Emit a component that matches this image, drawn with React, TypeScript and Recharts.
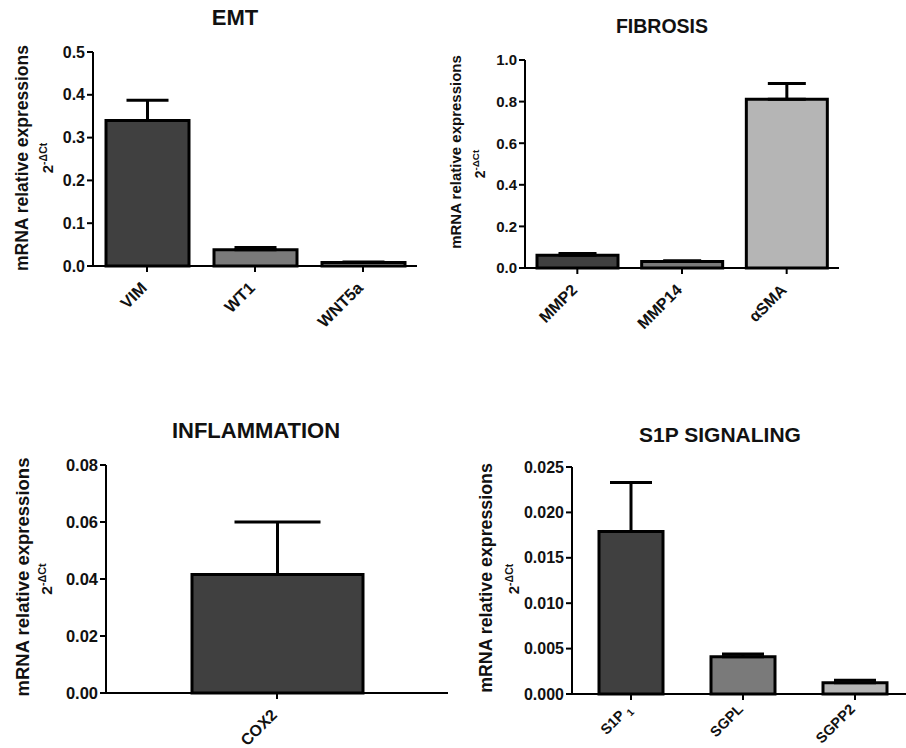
import React from 'react';
import { BarChart, Bar, XAxis, YAxis, ErrorBar, Cell } from 'recharts';

const emtGenes = ['VIM', 'WT1', 'WNT5a'];
const emtMeans = [0.34, 0.038, 0.008];
const emtSem = [0.047, 0.005, 0.0012];
const emtTicks = [0, 0.1, 0.2, 0.3, 0.4, 0.5];

const fibrosisGenes = ['MMP2', 'MMP14', 'αSMA'];
const fibrosisMeans = [0.061, 0.031, 0.811];
const fibrosisSem = [0.009, 0.004, 0.076];
const fibrosisTicks = [0, 0.2, 0.4, 0.6, 0.8, 1.0];

const inflammationGenes = ['COX2'];
const inflammationMeans = [0.0416];
const inflammationSem = [0.0184];
const inflammationTicks = [0, 0.02, 0.04, 0.06, 0.08];

// "_" marks a subscript in the tick label
const s1pGenes = ['S1P_1', 'SGPL', 'SGPP2'];
const s1pMeans = [0.0179, 0.0041, 0.00125];
const s1pSem = [0.0054, 0.0003, 0.00027];
const s1pTicks = [0, 0.005, 0.01, 0.015, 0.02, 0.025];

const FONT = "'Liberation Sans', Arial, Helvetica, sans-serif";
const BAR_FILLS = ['#404040', '#7a7a7a', '#b5b5b5'];

const GeneTick = (props: any) => {
  const { x, y, payload, fontSize, drop = 15 } = props;
  const [main, sub] = String(payload.value).split('_');
  const ty = y + drop;
  return (
    <text
      x={x + 1}
      y={ty}
      transform={`rotate(-45 ${x + 1} ${ty})`}
      textAnchor="end"
      fontFamily={FONT}
      fontWeight={700}
      fontSize={fontSize}
      fill="#111"
    >
      {main}
      {sub && (
        <tspan dx={3} dy={4} fontSize={fontSize * 0.7}>
          {sub}
        </tspan>
      )}
    </text>
  );
};

type Plot = { x0: number; x1: number; y0: number; y1: number };

const Panel = (props: {
  genes: string[];
  means: number[];
  sem: number[];
  ticks: number[];
  digits: number;
  plot: Plot;
  barSize: number;
  capHalf: number;
  tickFont: number;
  catFont: number;
  catDrop?: number;
  padLeft?: number;
}) => {
  const { genes, means, sem, ticks, digits, plot, barSize, capHalf, tickFont, catFont } = props;
  const yw = 80;
  const mt = 12;
  const mr = 12;
  const xh = 80;
  const data = genes.map((gene, i) => ({ gene, mean: means[i], err: [0, sem[i]] }));
  const axisStyle = { stroke: '#000', strokeWidth: 2 };
  return (
    <div style={{ position: 'absolute', left: plot.x0 - yw, top: plot.y0 - mt }}>
      <BarChart
        width={plot.x1 - plot.x0 + yw + mr}
        height={plot.y1 - plot.y0 + mt + xh}
        data={data}
        margin={{ top: mt, right: mr, bottom: 0, left: 0 }}
      >
        <XAxis
          dataKey="gene"
          height={xh}
          interval={0}
          padding={{ left: props.padLeft || 0, right: 0 }}
          axisLine={axisStyle}
          tickLine={axisStyle}
          tick={<GeneTick fontSize={catFont} drop={props.catDrop} />}
        />
        <YAxis
          width={yw}
          domain={[ticks[0], ticks[ticks.length - 1]]}
          ticks={ticks}
          interval={0}
          tickFormatter={(v: number) => v.toFixed(digits)}
          axisLine={axisStyle}
          tickLine={axisStyle}
          tick={{ fill: '#111', fontSize: tickFont, fontWeight: 700, fontFamily: FONT }}
        />
        <Bar dataKey="mean" barSize={barSize} stroke="#000" strokeWidth={3} isAnimationActive={false}>
          {data.map((d, i) => (
            <Cell key={d.gene} fill={BAR_FILLS[i]} />
          ))}
          <ErrorBar
            dataKey="err"
            direction="y"
            width={capHalf}
            stroke="#000"
            strokeWidth={3}
            isAnimationActive={false}
          />
        </Bar>
      </BarChart>
    </div>
  );
};

const Title = ({ text, cx, cy, size }: { text: string; cx: number; cy: number; size: number }) => (
  <div
    style={{
      position: 'absolute',
      left: cx,
      top: cy,
      transform: 'translate(-50%, -50%)',
      whiteSpace: 'nowrap',
      fontFamily: FONT,
      fontWeight: 700,
      fontSize: size,
      lineHeight: 1,
      color: '#111',
    }}
  >
    {text}
  </div>
);

const YLabel = (props: { cx: number; cy: number; size: number; cx2: number; cy2: number; size2: number }) => {
  const base = {
    position: 'absolute' as const,
    transform: 'translate(-50%, -50%) rotate(-90deg)',
    whiteSpace: 'nowrap' as const,
    fontFamily: FONT,
    fontWeight: 700,
    lineHeight: 1,
    color: '#111',
  };
  return (
    <>
      <div style={{ ...base, left: props.cx, top: props.cy, fontSize: props.size }}>
        mRNA relative expressions
      </div>
      <div style={{ ...base, left: props.cx2, top: props.cy2, fontSize: props.size2 }}>
        2<sup style={{ fontSize: '0.7em', verticalAlign: 'super', lineHeight: 0 }}>-ΔCt</sup>
      </div>
    </>
  );
};

export default function App() {
  return (
    <div
      style={{
        position: 'absolute',
        left: 0,
        top: 0,
        width: 906,
        height: 748,
        overflow: 'hidden',
        background: '#fff',
      }}
    >
      <Title text="EMT" cx={235} cy={18} size={22} />
      <YLabel cx={23} cy={158} size={17.5} cx2={47} cy2={158} size2={15} />
      <Panel
        genes={emtGenes}
        means={emtMeans}
        sem={emtSem}
        ticks={emtTicks}
        digits={1}
        plot={{ x0: 93, x1: 417, y0: 52, y1: 266 }}
        barSize={83}
        capHalf={21}
        tickFont={16}
        catFont={16.5}
      />

      <Title text="FIBROSIS" cx={662} cy={27} size={19.5} />
      <YLabel cx={455} cy={152} size={15} cx2={480} cy2={164} size2={14} />
      <Panel
        genes={fibrosisGenes}
        means={fibrosisMeans}
        sem={fibrosisSem}
        ticks={fibrosisTicks}
        digits={1}
        plot={{ x0: 525, x1: 839, y0: 60, y1: 268 }}
        barSize={81}
        capHalf={19}
        tickFont={15}
        catFont={16}
      />

      <Title text="INFLAMMATION" cx={256} cy={431} size={22} />
      <YLabel cx={23} cy={577} size={18.5} cx2={47} cy2={579} size2={15.5} />
      <Panel
        genes={inflammationGenes}
        means={inflammationMeans}
        sem={inflammationSem}
        ticks={inflammationTicks}
        digits={2}
        plot={{ x0: 106, x1: 448, y0: 465, y1: 693 }}
        barSize={171}
        capHalf={43}
        tickFont={16.5}
        catFont={16}
      />

      <Title text="S1P SIGNALING" cx={720} cy={434} size={21} />
      <YLabel cx={487} cy={578} size={17.8} cx2={513} cy2={579} size2={15} />
      <Panel
        genes={s1pGenes}
        means={s1pMeans}
        sem={s1pSem}
        ticks={s1pTicks}
        digits={3}
        plot={{ x0: 572, x1: 911, y0: 467, y1: 694 }}
        barSize={64}
        capHalf={21}
        tickFont={16}
        catFont={14.5}
        catDrop={8}
        padLeft={3}
      />
    </div>
  );
}
